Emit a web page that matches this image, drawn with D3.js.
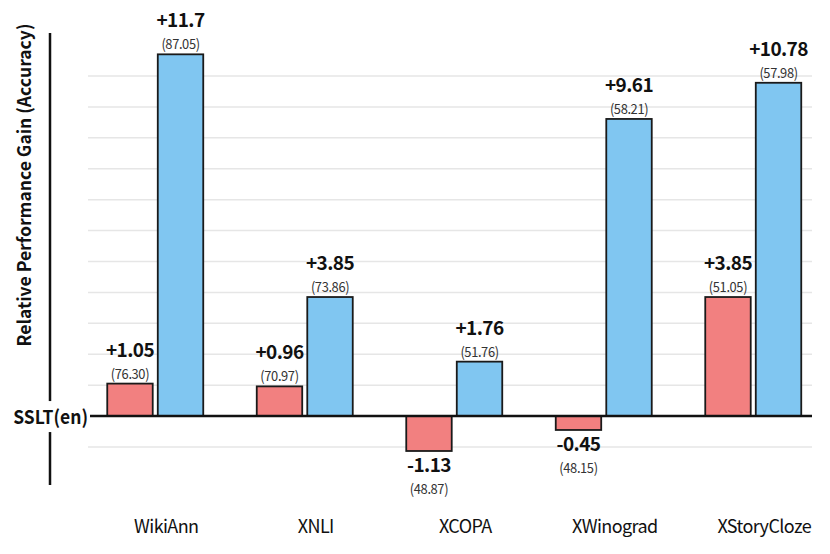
<!DOCTYPE html>
<html>
<head>
<meta charset="utf-8">
<script src="https://cdn.jsdelivr.net/npm/d3@7"></script>
<style>
  body { margin: 0; background: #fff; }
  text { font-family: "Noto Sans CJK KR", "Noto Sans", sans-serif; }
</style>
</head>
<body>
<script>
(function() {

    var categories = ['WikiAnn', 'XNLI', 'XCOPA', 'XWinograd', 'XStoryCloze'];
    var series = ['red', 'blue'];
    var redGain = [1.05, 0.96, -1.13, -0.45, 3.85];      // relative gain, first bar
    var redScore = ['76.30', '70.97', '48.87', '48.15', '51.05'];
    var blueGain = [11.7, 3.85, 1.76, 9.61, 10.78];      // relative gain, second bar
    var blueScore = ['87.05', '73.86', '51.76', '58.21', '57.98'];
    var gridValues = [-1, 0, 1, 2, 3, 4, 5, 6, 7, 8, 9, 10, 11];

    var colours = { red: '#F28080', blue: '#80C6F1' };

    var svg = d3.select('body').append('svg')
        .attr('width', 830)
        .attr('height', 554);

    var x0 = d3.scaleBand().domain(categories).range([80.5, 828]);
    var x1 = d3.scaleBand().domain(series).range([26.75, 122.75]).paddingInner(0.1);
    var y = d3.scaleLinear().domain([-2.23, 12.39]).range([485, 33]);

    // flatten the data for the bars
    var bars = [];
    categories.forEach(function(c, i) {
        bars.push({ cat: c, s: 'red', v: redGain[i], score: redScore[i] });
        bars.push({ cat: c, s: 'blue', v: blueGain[i], score: blueScore[i] });
    });

    // gridlines
    svg.append('g').selectAll('line')
        .data(gridValues.filter(function(d) { return d !== 0; }))
        .enter().append('line')
        .attr('x1', 88).attr('x2', 812)
        .attr('y1', function(d) { return y(d); })
        .attr('y2', function(d) { return y(d); })
        .attr('stroke', '#e6e6e6')
        .attr('stroke-width', 1.5);

    // left axis line
    svg.append('line')
        .attr('x1', 50).attr('x2', 50)
        .attr('y1', y.range()[1]).attr('y2', y.range()[0])
        .attr('stroke', '#111').attr('stroke-width', 2.5);

    // bars
    svg.append('g').selectAll('rect')
        .data(bars)
        .enter().append('rect')
        .attr('x', function(d) { return x0(d.cat) + x1(d.s); })
        .attr('width', x1.bandwidth())
        .attr('y', function(d) { return y(Math.max(0, d.v)); })
        .attr('height', function(d) { return Math.abs(y(d.v) - y(0)); })
        .attr('fill', function(d) { return colours[d.s]; })
        .attr('stroke', '#1a1a1a')
        .attr('stroke-width', 1.8);

    // zero line
    svg.append('line')
        .attr('x1', 90).attr('x2', 812)
        .attr('y1', y(0)).attr('y2', y(0))
        .attr('stroke', '#111').attr('stroke-width', 2.5);

    // SSLT(en) label with white box over the axis
    svg.append('rect')
        .attr('x', 8).attr('y', y(0) - 15)
        .attr('width', 80).attr('height', 31)
        .attr('fill', '#fff');
    svg.append('text')
        .attr('transform', 'translate(88,' + (y(0) + 8) + ') scale(0.92,1)')
        .attr('text-anchor', 'end')
        .attr('font-size', 19).attr('font-weight', 'bold')
        .attr('fill', '#111')
        .text('SSLT(en)');

    // value labels
    var labels = svg.append('g').selectAll('g')
        .data(bars)
        .enter().append('g')
        .attr('transform', function(d) {
            return 'translate(' + (x0(d.cat) + x1(d.s) + x1.bandwidth() / 2) + ',' + y(d.v) + ')';
        });

    labels.append('text')
        .attr('text-anchor', 'middle')
        .attr('y', function(d) { return d.v >= 0 ? -27 : 21; })
        .attr('font-size', 19).attr('font-weight', 'bold')
        .attr('fill', '#111')
        .attr('letter-spacing', -0.6)
        .text(function(d) { return (d.v >= 0 ? '+' : '') + d.v; });

    labels.append('text')
        .attr('text-anchor', 'middle')
        .attr('y', function(d) { return d.v >= 0 ? -5 : 43; })
        .attr('transform', 'scale(0.92,1)')
        .attr('font-size', 14)
        .attr('fill', '#333')
        .attr('letter-spacing', -0.4)
        .text(function(d) { return '(' + d.score + ')'; });

    // category axis
    var xAxis = d3.axisBottom(x0).tickSize(0).tickPadding(0);
    var gx = svg.append('g')
        .attr('transform', 'translate(11,520)')
        .call(xAxis);
    gx.select('.domain').remove();
    gx.selectAll('text')
        .attr('font-family', '"Noto Sans CJK KR", "Noto Sans", sans-serif')
        .attr('font-size', 18)
        .attr('fill', '#111')
        .attr('letter-spacing', -0.6);

    // y axis title
    svg.append('text')
        .attr('transform', 'translate(31,185) rotate(-90)')
        .attr('text-anchor', 'middle')
        .attr('font-size', 18).attr('font-weight', 'bold')
        .attr('fill', '#111')
        .attr('textLength', 323)
        .attr('lengthAdjust', 'spacingAndGlyphs')
        .text('Relative Performance Gain (Accuracy)');

})();
</script>
</body>
</html>
